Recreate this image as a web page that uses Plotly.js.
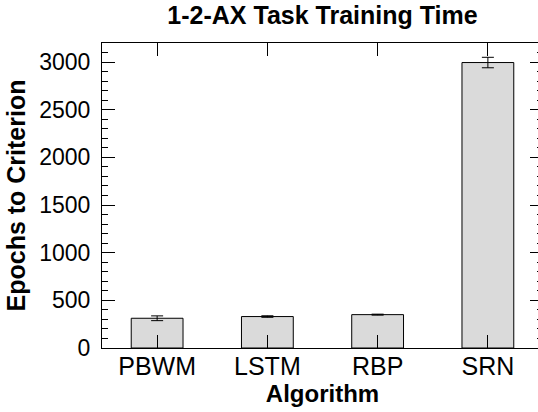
<!DOCTYPE html>
<html>
<head>
<meta charset="utf-8">
<script src="https://cdn.plot.ly/plotly-3.0.1.min.js"></script>
<style>
html,body{margin:0;padding:0;overflow:hidden;background:#fff;}
#chart{width:550px;height:412px;}
</style>
</head>
<body>
<div id="chart"></div>
<script>
var algorithms = ["PBWM", "LSTM", "RBP", "SRN"];
var epochs = [312, 330, 350, 2995];
var errors = [25, 8, 5, 55];

var trace = {
  type: "bar",
  x: algorithms,
  y: epochs,
  width: 0.47,
  marker: {color: "#dadada", line: {color: "#000", width: 1}},
  error_y: {type: "data", array: errors, visible: true, color: "#000", thickness: 1, width: 6}
};

var font = "Liberation Sans, Arial, Helvetica, sans-serif";
var layout = {
  width: 550,
  height: 412,
  margin: {l: 102, r: 7, t: 43, b: 64},
  paper_bgcolor: "#fff",
  plot_bgcolor: "#fff",
  showlegend: false,
  font: {family: font, color: "#000"},
  title: {
    text: "<b>1-2-AX Task Training Time</b>",
    font: {family: font, size: 25, color: "#000"},
    x: 0.5, xref: "paper", y: 0.985, yref: "container", yanchor: "top"
  },
  xaxis: {
    title: {text: "<b>Algorithm</b>", font: {family: font, size: 24, color: "#000"}, standoff: 4},
    range: [-0.5, 3.5],
    showline: true, linecolor: "#000", linewidth: 1, mirror: "allticks",
    ticks: "inside", ticklen: 13, tickwidth: 1, tickcolor: "#000",
    ticklabelstandoff: -4,
    tickfont: {family: font, size: 25, color: "#000"},
    showgrid: false, zeroline: false
  },
  yaxis: {
    title: {text: "<b>Epochs to Criterion</b>", font: {family: font, size: 25, color: "#000"}, standoff: 6},
    range: [0, 3200],
    dtick: 500, tick0: 0,
    showline: true, linecolor: "#000", linewidth: 1, mirror: "allticks",
    ticks: "inside", ticklen: 13, tickwidth: 1, tickcolor: "#000",
    ticklabelstandoff: 6,
    minor: {dtick: 100, ticks: "inside", ticklen: 6, tickwidth: 1, tickcolor: "#000", showgrid: false},
    tickfont: {family: font, size: 23, color: "#000"},
    showgrid: false, zeroline: false
  }
};

Plotly.newPlot("chart", [trace], layout, {displayModeBar: false, staticPlot: true});
</script>
</body>
</html>
